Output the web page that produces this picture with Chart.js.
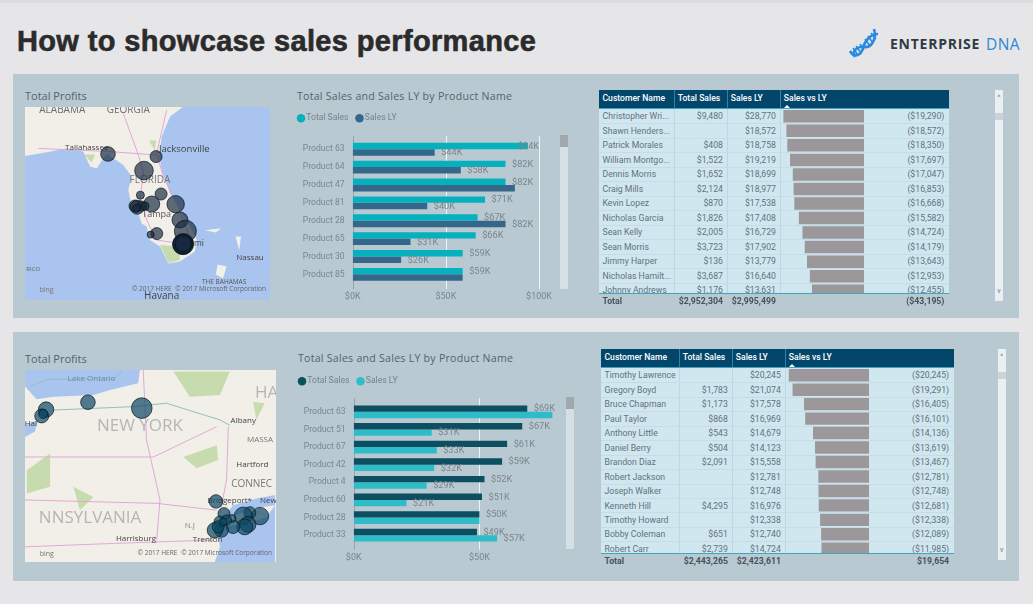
<!DOCTYPE html>
<html>
<head>
<meta charset="utf-8">
<script src="https://cdn.jsdelivr.net/npm/chart.js@4/dist/chart.umd.min.js"></script>
<style>
  html, body { margin: 0; padding: 0; }
  body { width: 1033px; height: 604px; position: relative; overflow: hidden; background: #e6e6e9; font-family: Roboto, sans-serif; }
  .abs { position: absolute; white-space: nowrap; }
  .panel { position: absolute; left: 13px; width: 1006px; background: #b9c9d2; }
  canvas { display: block; }
</style>
</head>
<body>
<div class="abs" style="left:0;top:0;width:1033px;height:3px;background:#dcdcde"></div>
<div class="abs" id="pageTitle" style="left:17px;top:25px;font:bold 29px 'Liberation Sans';letter-spacing:.35px;-webkit-text-stroke:.6px #2b2b2b;color:#2b2b2b">How to showcase sales performance</div>
<svg class="abs" style="left:847px;top:26px" width="36" height="32" viewBox="0 0 36 32">
  <g fill="none" stroke="#2a8ae0" stroke-width="2.6">
    <path d="M3 25 C7 32 14 30 16 22 C18 14 24 8 31 8"/>
    <path d="M8 31 C4 24 12 20 17 21 C24 22 30 14 27 3"/>
  </g>
  <g stroke="#2a8ae0" stroke-width="1.6">
    <path d="M6 22 L11 29"/><path d="M9 20 L14 27"/><path d="M13 18 L17 24"/><path d="M18 13 L23 20"/><path d="M21 10 L26 17"/><path d="M24 7 L29 13"/>
  </g>
</svg>
<div class="abs" style="left:890px;top:34px;font:bold 14px 'Open Sans';letter-spacing:.75px;color:#2f3a44">ENTERPRISE</div>
<div class="abs" style="left:986px;top:33px;font:15.5px 'Open Sans';letter-spacing:.4px;color:#2f86d6">DNA</div>
<div class="panel" style="top:74px;height:244px"></div>
<div class="panel" style="top:332px;height:249px"></div>

<script>
// === DATA: top row ===
const productsTop = ['Product 63', 'Product 64', 'Product 47', 'Product 81', 'Product 28', 'Product 65', 'Product 30', 'Product 85'];
const salesTop = [94, 82, 82, 71, 67, 66, 59, 59];
const salesLyTop = [44, 58, 87, 40, 82, 31, 26, 59];
const noLyLabelTop = ['Product 47', 'Product 85']; // labels the reference leaves out

const customersTop = ['Christopher Wri...', 'Shawn Henders...', 'Patrick Morales', 'William Montgo...', 'Dennis Morris', 'Craig Mills', 'Kevin Lopez', 'Nicholas Garcia', 'Sean Kelly', 'Sean Morris', 'Jimmy Harper', 'Nicholas Hamilt...', 'Johnny Andrews'];
const custSalesTop = [9480, null, 408, 1522, 1652, 2124, 870, 1826, 2005, 3723, 136, 3687, 1176];
const custLyTop = [28770, 18572, 18758, 19219, 18699, 18977, 17538, 17408, 16729, 17902, 13779, 16640, 13631];
const custDiffTop = [-19290, -18572, -18350, -17697, -17047, -16853, -16668, -15582, -14724, -14179, -13643, -12953, -12455];
const totalsTop = [2952304, 2995499, -43195];

// === DATA: bottom row ===
const productsBottom = ['Product 63', 'Product 51', 'Product 67', 'Product 42', 'Product 4', 'Product 60', 'Product 28', 'Product 33'];
const salesBottom = [69, 67, 61, 59, 52, 51, 50, 49];
const salesLyBottom = [79, 31, 33, 32, 29, 21, 50, 57];
const noLyLabelBottom = ['Product 63', 'Product 28'];

const customersBottom = ['Timothy Lawrence', 'Gregory Boyd', 'Bruce Chapman', 'Paul Taylor', 'Anthony Little', 'Daniel Berry', 'Brandon Diaz', 'Robert Jackson', 'Joseph Walker', 'Kenneth Hill', 'Timothy Howard', 'Bobby Coleman', 'Robert Carr'];
const custSalesBottom = [null, 1783, 1173, 868, 543, 504, 2091, null, null, 4295, null, 651, 2739];
const custLyBottom = [20245, 21074, 17578, 16969, 14679, 14123, 15558, 12781, 12748, 16976, 12338, 12740, 14724];
const custDiffBottom = [-20245, -19291, -16405, -16101, -14136, -13619, -13467, -12781, -12748, -12681, -12338, -12089, -11985];
const totalsBottom = [2443265, 2423611, 19654];

// === DATA: map bubbles [lon, lat] + radius (Total Profits) ===
const profitLonFL = [-84.29, -81.62, -82.29, -81.34, -82.49, -81.86, -80.53, -82.79, -82.66, -82.42, -82.23, -82.69, -80.29, -79.99, -81.58, -81.92, -80.11, -80.14, -80.07, -80.12, -80.10, -80.13, -80.09, -80.11];
const profitLatFL = [30.43, 30.30, 29.60, 28.43, 28.37, 27.93, 27.92, 27.83, 27.77, 27.83, 27.83, 27.72, 27.13, 26.57, 26.45, 26.40, 25.93, 25.90, 25.97, 25.88, 25.90, 25.92, 25.89, 25.95];
const profitSizeFL = [7.3, 6, 9.3, 6, 4, 8, 8.7, 6, 7, 5, 4, 4, 8, 11, 6, 3.5, 10.5, 10, 9, 8, 7, 9.5, 8.5, 8];

const profitLonNY = [-78.77, -78.89, -78.85, -77.62, -76.14, -74.10, -72.89, -73.17, -73.35, -73.22, -73.31, -73.63, -73.66, -73.88, -73.99, -73.81, -73.95, -74.13, -74.04, -73.90];
const profitLatNY = [43.00, 42.87, 42.91, 43.15, 43.03, 41.12, 40.82, 40.89, 40.82, 40.65, 40.60, 40.60, 40.77, 40.87, 40.70, 40.74, 40.53, 40.53, 40.60, 40.70];
const profitSizeNY = [7.7, 7, 4.5, 7.3, 10.3, 6.7, 8.7, 6, 9, 8, 8, 6.7, 4, 6, 6, 5, 7, 7.7, 6, 4];

// === MAP BACKDROP: Florida (lon/lat outlines, roads, place names) ===
const floridaLand = [[-88.9,32.78],[-80.14,32.78],[-80.84,32.30],[-81.31,31.30],[-81.44,30.30],[-81.31,29.63],[-80.84,28.46],[-80.29,27.63],[-79.73,26.80],[-79.36,26.13],[-79.46,25.55],[-80.29,25.05],[-80.94,24.96],[-81.40,25.80],[-81.96,26.13],[-82.14,26.80],[-82.42,26.96],[-82.60,27.46],[-82.97,27.80],[-83.16,28.63],[-82.97,29.30],[-83.44,29.88],[-84.36,30.46],[-84.92,29.71],[-85.29,29.80],[-85.66,30.55],[-86.59,30.71],[-88.07,30.46],[-88.9,30.33]];
const floridaGreen = [[[-81.40,25.88],[-80.38,25.80],[-80.29,25.13],[-80.94,24.98]], [[-85.6,30.4],[-85.0,30.4],[-85.2,30.0]], [[-82.0,31.1],[-81.6,31.1],[-81.7,30.6]]];
const floridaIslands = [[[-78.9,26.62],[-78.0,26.72],[-78.3,26.5]], [[-78.2,24.9],[-77.7,24.8],[-77.9,24.2],[-78.3,24.4]], [[-77.2,26.3],[-76.9,26.3],[-77.0,25.6]]];
const floridaRoads = [[[-88.16,30.71],[-84.18,30.55],[-81.59,30.38]], [[-83.44,32.46],[-82.60,30.38],[-82.32,29.46],[-82.51,28.21],[-82.14,27.13],[-81.59,26.13],[-80.29,25.96]], [[-81.03,32.63],[-81.59,30.46],[-81.22,29.30],[-80.47,27.96],[-79.83,26.46]]];
const floridaNames = [
  ['ALABAMA', -86.83, 32.63, 10, '#6c6c6c'], ['GEORGIA', -83.16, 32.63, 10, '#6c6c6c'],
  ['Tallahassee', -85.47, 30.76, 8, '#444'], ['Jacksonville', -80.05, 30.68, 9.5, '#444'],
  ['FLORIDA', -81.96, 29.10, 10, '#777'], ['Tampa', -81.59, 27.43, 9, '#555'],
  ['Miami', -79.64, 25.96, 8.5, '#444'], ['Nassau', -76.4, 25.25, 8, '#444'],
  ['THE BAHAMAS', -77.84, 24.01, 6.5, '#555'], ['Havana', -81.31, 23.33, 10, '#444'], ['RICO', -88.44, 24.68, 6, '#666'],
  ['bing', -87.7, 23.63, 7, '#777'], ['© 2017 HERE', -81.86, 23.65, 6.5, '#666'], ['© 2017 Microsoft Corporation', -78.03, 23.65, 6.5, '#666']
];

// === MAP BACKDROP: New York ===
const nyWater = [[[-79.35,43.81],[-76.19,43.81],[-76.24,43.54],[-77.01,43.40],[-77.47,43.30],[-78.57,43.26],[-79.03,43.21],[-79.26,43.40],[-79.35,43.47]], [[-79.35,42.68],[-78.98,42.79],[-79.08,42.55],[-79.35,42.44]], [[-72.48,41.25],[-72.99,41.18],[-73.63,41.04],[-74.08,40.60],[-73.99,40.19],[-74.13,39.88],[-72.48,39.88]]];
const nyIsland = [[-72.48,41.04],[-73.08,40.97],[-73.72,40.80],[-73.81,40.63],[-73.35,40.63],[-72.71,40.80]];
const nyGreen = [[[-75.27,43.78],[-73.72,43.78],[-73.99,43.30],[-74.82,43.26]], [[-75.0,42.03],[-74.08,42.27],[-74.04,41.97],[-74.63,41.80]], [[-79.30,41.76],[-78.66,42.10],[-78.66,41.42],[-79.30,41.28]], [[-78.02,41.42],[-77.47,41.21],[-77.84,40.94]], [[-73.08,43.16],[-72.76,43.13],[-72.99,42.79]]];
const nyRoads = [[[-76.10,43.81],[-76.01,42.38],[-75.64,41.15],[-75.73,40.33]], [[-79.35,42.03],[-75.82,42.03],[-74.08,42.65]], [[-79.35,41.15],[-75.73,41.08],[-74.08,40.94]], [[-79.35,40.19],[-76.92,40.26],[-74.18,40.33]], [[-73.76,42.65],[-73.81,41.56],[-73.99,40.87]]];
const nyThruway = [[[-78.57,42.99],[-76.37,43.06],[-75.46,43.13],[-74.0,42.79],[-73.72,42.68]], [[-79.21,43.47],[-78.75,43.62],[-76.92,43.62],[-76.69,43.78]]];
const nyNames = [
  ['Lake Ontario', -77.52, 43.63, 8, '#6d88a8'], ['Hal', -79.19, 42.72, 8, '#444'], ['NEW YORK', -76.19, 42.66, 17, '#b5b5b5'],
  ['Albany', -73.35, 42.77, 8, '#444'], ['MASSA', -72.89, 42.38, 8, '#777'], ['Hartford', -73.10, 41.88, 8, '#444'],
  ['CONNEC', -73.12, 41.47, 10, '#777'], ['HA', -72.71, 43.33, 17, '#b5b5b5'], ['Bridgeport*', -73.72, 41.14, 8, '#444'],
  ['New', -72.66, 41.14, 8, '#444'], ['NNSYLVANIA', -77.56, 40.77, 17, '#b5b5b5'], ['Harrisburg', -76.30, 40.36, 8, '#444'],
  ['Trenton', -74.33, 40.34, 8, '#444'], ['N.J', -74.82, 40.63, 8, '#888'], ['bing', -78.75, 40.05, 7, '#777'],
  ['© 2017 HERE', -75.71, 40.07, 6.5, '#666'], ['© 2017 Microsoft Corporation', -73.81, 40.07, 6.5, '#666']
];

const fontUi = 'Roboto, sans-serif';
const fontTitle = '"Open Sans", sans-serif';

// === HELPERS ===
function put(css, text) {
  const el = document.createElement('div');
  el.className = 'abs';
  el.style.cssText = css;
  if (text !== undefined) el.textContent = text;
  document.body.appendChild(el);
  return el;
}

function addCanvas(parent, left, top, width, height) {
  const c = document.createElement('canvas');
  c.width = width;
  c.height = height;
  c.style.cssText = `position:absolute;left:${left}px;top:${top}px;width:${width}px;height:${height}px`;
  parent.appendChild(c);
  return c;
}

const money = v => v == null ? '' : (v < 0 ? '($' + (-v).toLocaleString('en-US') + ')' : '$' + v.toLocaleString('en-US'));

// === MAP: bubbles over a drawn backdrop ===
function plotMap(left, top, width, height, bounds, backdrop, lon, lat, size, fill) {
  const paintBackdrop = {
    id: 'paintBackdrop',
    beforeDatasetsDraw(chart) {
      const { ctx, chartArea: a, scales: { x, y } } = chart;
      const trace = pts => {
        ctx.beginPath();
        pts.forEach((p, i) => {
          const px = x.getPixelForValue(p[0]), py = y.getPixelForValue(p[1]);
          i ? ctx.lineTo(px, py) : ctx.moveTo(px, py);
        });
      };
      ctx.save();
      ctx.beginPath();
      ctx.rect(a.left, a.top, a.right - a.left, a.bottom - a.top);
      ctx.clip();
      ctx.fillStyle = backdrop.base;
      ctx.fillRect(a.left, a.top, a.right - a.left, a.bottom - a.top);
      backdrop.fills.forEach(f => {
        ctx.fillStyle = f.color;
        f.shapes.forEach(s => { trace(s); ctx.closePath(); ctx.fill(); });
      });
      backdrop.lines.forEach(l => {
        ctx.strokeStyle = l.color;
        ctx.lineWidth = 1;
        l.shapes.forEach(s => { trace(s); ctx.stroke(); });
      });
      ctx.textAlign = 'center';
      ctx.textBaseline = 'middle';
      backdrop.names.forEach(([t, lo, la, fs, col]) => {
        ctx.font = `${fs}px ${fontTitle}`;
        ctx.fillStyle = col;
        ctx.fillText(t, x.getPixelForValue(lo), y.getPixelForValue(la));
      });
      ctx.restore();
    }
  };

  return new Chart(addCanvas(document.body, left, top, width, height), {
    type: 'bubble',
    data: {
      datasets: [{
        label: 'Total Profits',
        data: lon.map((v, i) => ({ x: v, y: lat[i], r: size[i] })),
        backgroundColor: fill,
        borderColor: 'rgba(8, 22, 32, 0.7)',
        borderWidth: 1
      }]
    },
    options: {
      responsive: false,
      animation: false,
      layout: { autoPadding: false },
      plugins: { legend: { display: false }, tooltip: { enabled: false } },
      scales: {
        x: { type: 'linear', display: false, min: bounds[0], max: bounds[1] },
        y: { type: 'linear', display: false, min: bounds[2], max: bounds[3] }
      }
    },
    plugins: [paintBackdrop]
  });
}

// === BAR CHART: two series, value labels, outer grid lines ===
function plotBars(box, products, sales, salesLy, noLyLabel, colors, xMax) {
  const barLabels = {
    id: 'barLabels',
    beforeLayout(chart) {
      // Abstand zwischen Legende und Plot
      const legend = chart.legend;
      if (legend.gapAdded) return;
      legend.gapAdded = true;
      const fit = legend.fit;
      legend.fit = function () { fit.call(this); this.height += box.legendGap; };
    },
    beforeDatasetsDraw(chart) {
      const { ctx, chartArea: a, scales: { x } } = chart;
      ctx.save();
      x.ticks.forEach(t => {
        const px = Math.round(x.getPixelForValue(t.value)) + 0.5;
        ctx.strokeStyle = t.value === 0 ? '#98a4ab' : 'rgba(255,255,255,0.8)';
        ctx.beginPath();
        ctx.moveTo(px, a.top - 4.7);
        ctx.lineTo(px, a.bottom + 5.7);
        ctx.stroke();
      });
      ctx.restore();
    },
    afterDatasetsDraw(chart) {
      const { ctx, chartArea: a } = chart;
      ctx.save();
      ctx.font = `9.2px ${fontUi}`;
      ctx.fillStyle = '#7b858c';
      ctx.textBaseline = 'middle';
      chart.data.datasets.forEach((ds, d) => {
        chart.getDatasetMeta(d).data.forEach((bar, i) => {
          if (d === 1 && noLyLabel.includes(products[i])) return;
          const text = '$' + ds.data[i] + 'K';
          const w = ctx.measureText(text).width;
          ctx.fillText(text, Math.min(bar.x + 6.5, a.right - w), bar.y + 0.5);
        });
      });
      ctx.restore();
    }
  };

  return new Chart(addCanvas(document.body, box.left, box.top, box.width, box.height), {
    type: 'bar',
    data: {
      labels: products,
      datasets: [
        { label: 'Total Sales', data: sales, backgroundColor: colors[0] },
        { label: 'Sales LY', data: salesLy, backgroundColor: colors[1] }
      ]
    },
    options: {
      indexAxis: 'y',
      responsive: false,
      animation: false,
      layout: { autoPadding: false, padding: { right: box.padRight } },
      datasets: { bar: { categoryPercentage: 0.72, barPercentage: 1 } },
      plugins: {
        tooltip: { enabled: false },
        legend: {
          position: 'top',
          align: 'start',
          labels: { usePointStyle: true, pointStyle: 'circle', boxWidth: 2, boxHeight: 6, padding: 10, color: '#76828a', font: { family: fontUi, size: 8.6 } }
        }
      },
      scales: {
        x: {
          type: 'linear',
          min: 0,
          max: xMax,
          grid: { display: false, drawTicks: false },
          border: { display: false },
          ticks: { stepSize: 50, includeBounds: false, padding: 8, color: '#7b858c', font: { family: fontUi, size: 9 }, callback: v => '$' + v + 'K' },
          afterFit(s) { s.height = box.axisHeight; }
        },
        y: {
          grid: { display: false, drawTicks: false },
          border: { display: false },
          ticks: { padding: 8, color: '#7b858c', font: { family: fontUi, size: 8.6 } },
          afterFit(s) { s.width = box.axisWidth; }
        }
      }
    },
    plugins: [barLabels]
  });
}

// === TABLE: header, rows, data bars (Chart.js) and total line ===
function buildTable(t, names, sales, ly, diff, totals) {
  const [c0, c1, c2, c3, c4] = t.cols;
  const bodyTop = t.top + t.headH;
  put(`left:${c0}px;top:${t.top}px;width:${c4 - c0}px;height:${t.headH}px;background:#03466b`);
  ['Customer Name', 'Total Sales', 'Sales LY', 'Sales vs LY'].forEach((h, i) => {
    put(`left:${t.cols[i] + 3.5}px;top:${t.top + 1}px;font:500 8.6px/15px ${fontUi};color:#fff`, h);
  });
  put(`left:${c3 + 3.5}px;top:${t.top + 15}px;width:0;height:0;border-left:3px solid transparent;border-right:3px solid transparent;border-bottom:3px solid #fff`);
  [c1, c2, c3].forEach(c => put(`left:${c}px;top:${t.top}px;width:1px;height:${t.headH}px;background:#3b7f9c`));
  put(`left:${c0}px;top:${bodyTop}px;width:${c4 - c0}px;height:${t.bottom - bodyTop}px;background:#d0e7f0`);
  [c1, c2, c3].forEach(c => put(`left:${c}px;top:${bodyTop}px;width:1px;height:${t.bottom - bodyTop}px;background:#bfd7e1`));

  const body = put(`left:${c0}px;top:${bodyTop}px;width:${c4 - c0}px;height:${t.bottom - bodyTop}px;overflow:hidden`);
  const cell = (css, text) => {
    const el = document.createElement('div');
    el.className = 'abs';
    el.style.cssText = css;
    el.textContent = text;
    body.appendChild(el);
  };
  names.forEach((n, i) => {
    const y = i * t.rowH;
    const line = document.createElement('div');
    line.className = 'abs';
    line.style.cssText = `left:0;top:${y + t.rowH - 0.5}px;width:${c4 - c0}px;height:1px;background:#c6dde7`;
    body.appendChild(line);
    const css = `top:${y}px;font:8.7px/${t.rowH}px ${fontUi};color:#64727b;`;
    cell(css + `left:3.5px`, n);
    cell(css + `right:${c4 - c2 + 4.4}px`, money(sales[i]));
    cell(css + `right:${c4 - c3 + 4.4}px`, money(ly[i]));
    cell(css + `right:4.6px`, money(diff[i]));
  });

  new Chart(addCanvas(body, c3 - c0, 0, t.barWidth, Math.round(names.length * t.rowH)), {
    type: 'bar',
    data: { labels: names, datasets: [{ label: 'Sales vs LY', data: diff, backgroundColor: '#9b979a' }] },
    options: {
      indexAxis: 'y',
      responsive: false,
      animation: false,
      layout: { autoPadding: false },
      datasets: { bar: { categoryPercentage: 1, barPercentage: 0.86 } },
      plugins: { legend: { display: false }, tooltip: { enabled: false } },
      scales: {
        x: { type: 'linear', display: false, min: t.barMin, max: 0 },
        y: { display: false }
      }
    }
  });

  put(`left:${c0}px;top:${bodyTop - 1}px;width:${c4 - c0}px;height:1px;background:#3aa7bf`);
  put(`left:${c0}px;top:${t.bottom}px;width:${c4 - c0}px;height:1px;background:#3aa7bf`);
  const totalCss = `top:${t.bottom + 1}px;font:bold 8.7px/15px ${fontUi};color:#47525a;`;
  put(totalCss + `left:${c0 + 3.5}px`, 'Total');
  put(totalCss + `right:${1033 - c2 + 4.4}px`, money(totals[0]));
  put(totalCss + `right:${1033 - c3 + 4.4}px`, money(totals[1]));
  put(totalCss + `right:${1033 - c4 + 4.6}px`, money(totals[2]));
}

function scrollbar(left, top, width, height, thumbTop, thumbH, track, thumb) {
  put(`left:${left}px;top:${top}px;width:${width}px;height:${height}px;background:${track}`);
  put(`left:${left}px;top:${thumbTop}px;width:${width}px;height:${thumbH}px;background:${thumb}`);
}

function tableScroll(left, top, height, thumbTop) {
  scrollbar(left, top, 8, height, thumbTop, 7, '#e9eff3', '#cbd3d8');
  put(`left:${left}px;top:${top + 4}px;width:8px;text-align:center;font:7px/8px ${fontUi};color:#6b7780`, '^');
  put(`left:${left}px;top:${top + height - 14}px;width:8px;text-align:center;font:7px/8px ${fontUi};color:#6b7780`, 'v');
}

// === PANEL TITLES ===
const titleCss = `font:11px/14px ${fontTitle};color:#56626b;`;
put(titleCss + 'left:25px;top:89px', 'Total Profits');
put(titleCss + 'left:25px;top:352px', 'Total Profits');
const barTitleCss = `font:10.6px/14px ${fontTitle};letter-spacing:.25px;color:#56626b;`;
put(barTitleCss + 'left:297px;top:89px', 'Total Sales and Sales LY by Product Name');
put(barTitleCss + 'left:298px;top:351px', 'Total Sales and Sales LY by Product Name');

// === DRAW ===
plotMap(25, 107, 245, 193, [-88.9, -75.29, 23.13, 32.78], {
  base: '#a9c4ee',
  fills: [
    { color: '#f2efe9', shapes: [floridaLand] },
    { color: '#c6dcae', shapes: floridaGreen },
    { color: '#eef2e8', shapes: floridaIslands }
  ],
  lines: [{ color: '#e3a9d5', shapes: floridaRoads }],
  names: floridaNames
}, profitLonFL, profitLatFL, profitSizeFL, 'rgba(22, 42, 62, 0.68)');

plotMap(25, 370, 251, 192, [-79.35, -72.45, 39.88, 43.81], {
  base: '#f2efe9',
  fills: [
    { color: '#a9c4ee', shapes: nyWater },
    { color: '#f2efe9', shapes: [nyIsland] },
    { color: '#c6dcae', shapes: nyGreen }
  ],
  lines: [{ color: '#e3a9d5', shapes: nyRoads }, { color: '#93c0bc', shapes: nyThruway }],
  names: nyNames
}, profitLonNY, profitLatNY, profitSizeNY, 'rgba(12, 72, 98, 0.7)');

plotBars({ left: 290, top: 104, width: 270, height: 200, padRight: 12.7, axisWidth: 62.7, axisHeight: 20.7, legendGap: 7.7 },
  productsTop, salesTop, salesLyTop, noLyLabelTop, ['#06b0bd', '#35678a'], 100);
plotBars({ left: 291, top: 367, width: 276, height: 200, padRight: 2, axisWidth: 62.7, axisHeight: 23, legendGap: 7.4 },
  productsBottom, salesBottom, salesLyBottom, noLyLabelBottom, ['#0d4f60', '#2fbcc9'], 84);
scrollbar(560, 135, 8, 154, 135, 12, '#d5e0e4', '#9fa8ad');
scrollbar(566, 397, 8, 152, 397, 12, '#d5e0e4', '#9fa8ad');

buildTable({ cols: [599, 674.3, 727.3, 780.3, 949], top: 90, headH: 19, bottom: 293.3, rowH: 14.5, barWidth: 84, barMin: -20100 },
  customersTop, custSalesTop, custLyTop, custDiffTop, totalsTop);
buildTable({ cols: [601, 679.3, 732.3, 785.3, 953.7], top: 349.3, headH: 19, bottom: 552.7, rowH: 14.47, barWidth: 84, barMin: -21200 },
  customersBottom, custSalesBottom, custLyBottom, custDiffBottom, totalsBottom);
tableScroll(995, 90, 211, 113);
tableScroll(997.7, 349, 211, 372);
</script>
</body>
</html>
